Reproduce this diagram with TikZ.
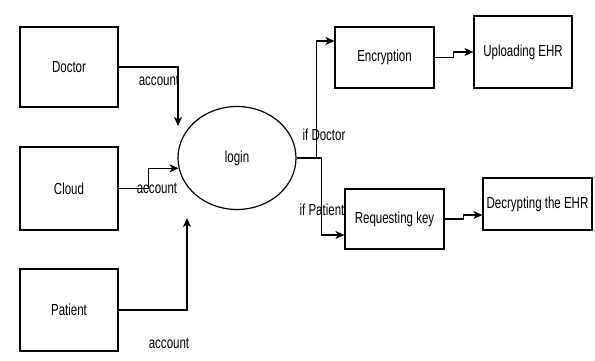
\documentclass[tikz,border=0pt]{standalone}
\usepackage{fontspec}
\setmainfont[FakeStretch=0.72]{Liberation Sans}
\usepackage{tikz}
\usetikzlibrary{arrows.meta}
\usetikzlibrary{shapes.geometric}

\begin{document}
\begin{tikzpicture}[x=1pt,y=-1pt,line width=1.2pt,>={Stealth[length=9pt,width=8pt,inset=2.5pt]},
    every node/.style={font=\fontsize{16}{18}\selectfont,inner sep=0pt},
    box/.style={draw,rectangle,align=center},
    lbl/.style={fill=none}]
                \useasboundingbox (0,0) rectangle (595,361);
                %entities
                \node[box,minimum width=98pt,minimum height=80pt] (doctor) at (69,67) {Doctor};
                \node[box,minimum width=98pt,minimum height=83pt] (cloud) at (69,188.5) {Cloud};
                \node[box,minimum width=98pt,minimum height=82pt] (patient) at (69,310) {Patient};
                %login
                \node[draw,ellipse,minimum width=118pt,minimum height=103pt] (login) at (237,158) {login};
                %steps
                \node[box,minimum width=99pt,minimum height=61pt] (encrypt) at (384.5,57.5) {Encryption};
                \node[box,minimum width=98pt,minimum height=72pt] (upload) at (523,52) {Uploading EHR};
                \node[box,minimum width=99pt,minimum height=60pt] (reqkey) at (394.5,219) {Requesting key};
                \node[box,minimum width=109pt,minimum height=52pt] (decrypt) at (537.5,204) {Decrypting the EHR};
                %free ends near login
                \coordinate (dIn) at (178,126);
                \coordinate (pIn) at (187,218);
                %account arrows
                \draw[->] (doctor.east) -| (dIn);
                \draw[->] (cloud.east) -- ++(30,0) |- (login.190);
                \draw[->] (patient.east) -| (pIn);
                \node[lbl] (accD) at (159,80) {account};
                \node[lbl] (accC) at (157,188) {account};
                \node[lbl] (accP) at (169,343) {account};
                %branches
                \draw[->] (login.east) -- ++(20,0) |- ([yshift=16.5pt]encrypt.west);
                \draw[->] (login.east) -- ++(25,0) |- ([yshift=-16pt]reqkey.west);
                \node[lbl] (ifD) at (324,135) {if Doctor};
                \node[lbl] (ifP) at (322,210) {if Patient};
                \draw[->] (encrypt.east) -- ++(19,0) |- (upload.west);
                \draw[->] (reqkey.east) -- ++(19,0) |- ([yshift=-11pt]decrypt.west);
            \end{tikzpicture}
\end{document}
